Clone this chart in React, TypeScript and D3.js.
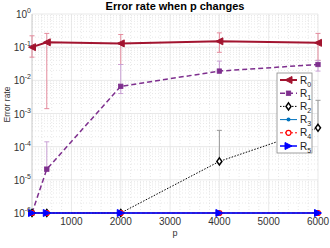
import * as d3 from "d3";

const pValues = [200, 500, 2000, 4000, 6000];
const seriesNames = ["R0", "R1", "R2", "R3", "R4", "R5"];

const r0 = [0.1, 0.14, 0.13, 0.15, 0.135];
const r0Low = [0.05, 0.0014, 0.03, 0.07, 0.04];
const r0High = [0.22, 0.26, 0.24, 0.27, 0.26];

const r1 = [1e-6, 2.1e-5, 0.0066, 0.019, 0.03];
const r1Low = [1e-6, 2.1e-5, 0.004, 0.019, 0.019];
const r1High = [1e-6, 1.4e-4, 0.03, 0.038, 0.04];

const r2 = [1e-6, 1e-6, 1e-6, 3.6e-5, 3.7e-4];
const r2Low = [1e-6, 1e-6, 1e-6, 3.6e-5, 3.7e-4];
const r2High = [1e-6, 1e-6, 1e-6, 3.1e-4, 2.5e-3];

const r3 = [1e-6, 1e-6, 1e-6, 1e-6, 1e-6];
const r4 = [1e-6, 1e-6, 1e-6, 1e-6, 1e-6];
const r5 = [1e-6, 1e-6, 1e-6, 1e-6, 1e-6];

const xTicks = [1000, 2000, 3000, 4000, 5000, 6000];
const yExponents = [0, -1, -2, -3, -4, -5, -6];

const styles = [
  { color: "#a2142f", errColor: "#e48a9c", width: 2, dash: "", marker: "left" },
  { color: "#7e2f8e", errColor: "#c9a0d4", width: 1.5, dash: "5,3", marker: "square" },
  { color: "#000000", errColor: "#9a9a9a", width: 1, dash: "1.5,1.5", marker: "diamond" },
  { color: "#0072bd", errColor: "#0072bd", width: 1, dash: "", marker: "dot" },
  { color: "#ff0000", errColor: "#ff0000", width: 1, dash: "3,2", marker: "circle" },
  { color: "#0000ff", errColor: "#0000ff", width: 1.5, dash: "", marker: "right" },
];

const values = [r0, r1, r2, r3, r4, r5];
const lows = [r0Low, r1Low, r2Low, null, null, null];
const highs = [r0High, r1High, r2High, null, null, null];

const margin = { top: 14, right: 12, bottom: 35, left: 32 };
const W = 330;
const H = 248;

function Marker({ type, x, y, color }: { type: string; x: number; y: number; color: string }) {
  const s = 3.5;
  if (type === "left")
    return <path d={`M${x - s},${y}L${x + s},${y - s}L${x + s},${y + s}Z`} fill={color} stroke={color} />;
  if (type === "right")
    return <path d={`M${x + s},${y}L${x - s},${y - s}L${x - s},${y + s}Z`} fill={color} stroke={color} />;
  if (type === "square")
    return <rect x={x - 2.2} y={y - 2.2} width={4.4} height={4.4} fill={color} stroke={color} strokeWidth={0.8} />;
  if (type === "diamond")
    return <path d={`M${x},${y - 3.5}L${x + 2.5},${y}L${x},${y + 3.5}L${x - 2.5},${y}Z`} fill="#fff" stroke={color} strokeWidth={1.5} />;
  if (type === "dot") return <circle cx={x} cy={y} r={2} fill={color} />;
  return <circle cx={x} cy={y} r={2.5} fill="#fff" stroke={color} strokeWidth={1.2} />;
}

export default function App() {
  const x = d3.scaleLinear().domain([200, 6000]).range([margin.left, W - margin.right]);
  const y = d3.scaleLog().domain([1e-6, 1]).range([H - margin.bottom, margin.top]);
  const line = d3
    .line<number>()
    .x((_, i) => x(pValues[i]))
    .y((d) => y(d));

  const minorY: number[] = [];
  for (let e = -6; e < 0; e++) for (let k = 2; k <= 9; k++) minorY.push(k * Math.pow(10, e));
  const minorX: number[] = d3.range(400, 6000, 200).filter((v) => v % 1000 !== 0);

  const x0 = margin.left;
  const x1 = W - margin.right;
  const y0 = H - margin.bottom;
  const y1 = margin.top;

  const legendX = 277;
  const legendY = 73;
  const legendStep = 13.2;

  return (
    <svg width={W} height={H} style={{ position: "absolute", left: 0, top: 0 }} fontFamily="Liberation Sans, Arial, sans-serif">
      <rect width={W} height={H} fill="#fff" />
      {/* minor grid */}
      {minorY.map((v, i) => (
        <line key={"my" + i} x1={x0} x2={x1} y1={y(v)} y2={y(v)} stroke="#d8d8d8" strokeWidth={0.6} strokeDasharray="1,2" />
      ))}
      {minorX.map((v, i) => (
        <line key={"mx" + i} x1={x(v)} x2={x(v)} y1={y0} y2={y1} stroke="#d8d8d8" strokeWidth={0.6} strokeDasharray="1,2" />
      ))}
      {/* major grid */}
      {yExponents.map((e) => (
        <line key={"gy" + e} x1={x0} x2={x1} y1={y(Math.pow(10, e))} y2={y(Math.pow(10, e))} stroke="#e3e3e3" strokeWidth={0.8} />
      ))}
      {xTicks.map((t) => (
        <line key={"gx" + t} x1={x(t)} x2={x(t)} y1={y0} y2={y1} stroke="#e3e3e3" strokeWidth={0.8} />
      ))}
      {/* axes */}
      <line x1={x0} x2={x0} y1={y0} y2={y1} stroke="#bbbbbb" strokeWidth={0.8} />
      <line x1={x0} x2={x1} y1={y0} y2={y0} stroke="#bbbbbb" strokeWidth={0.8} />
      {/* error bars */}
      {values.map((vals, si) => {
        const lo = lows[si];
        const hi = highs[si];
        if (!lo || !hi) return null;
        return (
          <g key={"err" + si} stroke={styles[si].errColor} strokeWidth={1}>
            {vals.map((v, i) => {
              if (lo[i] === hi[i]) return null;
              const cx = x(pValues[i]);
              return (
                <g key={i}>
                  <line x1={cx} x2={cx} y1={y(lo[i])} y2={y(hi[i])} />
                  <line x1={cx - 2.5} x2={cx + 2.5} y1={y(lo[i])} y2={y(lo[i])} />
                  <line x1={cx - 2.5} x2={cx + 2.5} y1={y(hi[i])} y2={y(hi[i])} />
                </g>
              );
            })}
          </g>
        );
      })}
      {/* lines */}
      {values.map((vals, si) => (
        <path
          key={"l" + si}
          d={line(vals) || ""}
          fill="none"
          stroke={styles[si].color}
          strokeWidth={styles[si].width}
          strokeDasharray={styles[si].dash}
        />
      ))}
      {values.map((vals, si) =>
        vals.map((v, i) => (
          <Marker key={"m" + si + "-" + i} type={styles[si].marker} x={x(pValues[i])} y={y(v)} color={styles[si].color} />
        ))
      )}
      {/* tick labels */}
      {xTicks.map((t) => (
        <text key={"tx" + t} x={x(t)} y={y0 + 12} textAnchor="middle" fontSize={10} fill="#333">
          {t}
        </text>
      ))}
      {yExponents.map((e) => (
        <text key={"ty" + e} x={x0 - 1} y={y(Math.pow(10, e)) + 4} textAnchor="end" fontSize={10} fill="#333">
          10
          <tspan fontSize={7} dy={-5}>
            {e}
          </tspan>
        </text>
      ))}
      <text x={(x0 + x1) / 2} y={y0 + 23} textAnchor="middle" fontSize={9} fill="#333">
        p
      </text>
      <text transform={`translate(10,${(y0 + y1) / 2 - 9}) rotate(-90)`} textAnchor="middle" fontSize={8.5} fill="#333">
        Error rate
      </text>
      <text x={(x0 + x1) / 2} y={10} textAnchor="middle" fontSize={11} fontWeight="bold" fill="#000">
        Error rate when p changes
      </text>
      {/* legend */}
      <rect x={legendX} y={legendY} width={35} height={80} fill="#fff" stroke="#888" strokeWidth={0.8} />
      {seriesNames.map((n, si) => {
        const ly = legendY + 7 + si * legendStep;
        return (
          <g key={"lg" + si}>
            <line x1={legendX + 3} x2={legendX + 20} y1={ly} y2={ly} stroke={styles[si].color} strokeWidth={styles[si].width} strokeDasharray={styles[si].dash} />
            <Marker type={styles[si].marker} x={legendX + 11.5} y={ly} color={styles[si].color} />
            <text x={legendX + 23} y={ly + 3.5} fontSize={10} fill="#222">
              {n[0]}
              <tspan fontSize={7} dy={3}>
                {n.slice(1)}
              </tspan>
            </text>
          </g>
        );
      })}
    </svg>
  );
}
